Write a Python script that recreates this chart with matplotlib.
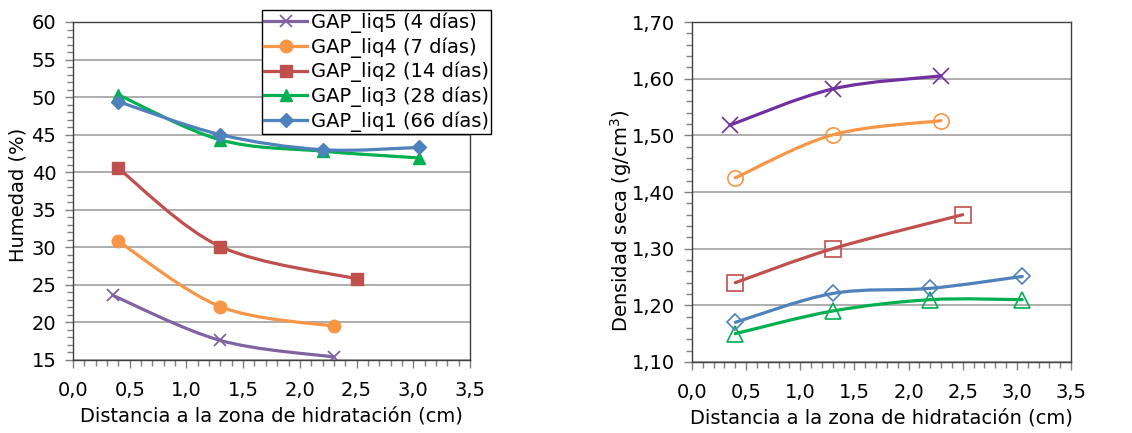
import numpy as np
import matplotlib
matplotlib.use("Agg")
import matplotlib.pyplot as plt
from matplotlib.path import Path
from matplotlib.patches import PathPatch
from matplotlib.lines import Line2D
from matplotlib.ticker import MultipleLocator, FuncFormatter

plt.rcParams['font.family'] = ['DejaVu Sans']
plt.rcParams['font.size'] = 13

# series (in legend order)
labels = ["GAP_liq5 (4 días)", "GAP_liq4 (7 días)", "GAP_liq2 (14 días)",
          "GAP_liq3 (28 días)", "GAP_liq1 (66 días)"]
markers = ["x", "o", "s", "^", "D"]
colors_left = ["#8064A2", "#F79646", "#C0504D", "#00B050", "#4F81BD"]
colors_right = ["#7030A0", "#F79646", "#C0504D", "#00B050", "#4F81BD"]

# humedad (%) vs distancia (cm)
x_hum = [
    [0.35, 1.3, 2.3],
    [0.4, 1.3, 2.3],
    [0.4, 1.3, 2.5],
    [0.4, 1.3, 2.2, 3.05],
    [0.4, 1.3, 2.2, 3.05],
]
y_hum = [
    [23.6, 17.6, 15.4],
    [30.8, 22.1, 19.5],
    [40.5, 30.1, 25.8],
    [50.3, 44.3, 42.8, 41.9],
    [49.4, 45.0, 43.0, 43.3],
]

# densidad seca (g/cm3) vs distancia (cm)
x_den = [
    [0.35, 1.3, 2.3],
    [0.4, 1.3, 2.3],
    [0.4, 1.3, 2.5],
    [0.4, 1.3, 2.2, 3.05],
    [0.4, 1.3, 2.2, 3.05],
]
y_den = [
    [1.518, 1.582, 1.605],
    [1.425, 1.501, 1.526],
    [1.240, 1.300, 1.360],
    [1.150, 1.190, 1.210, 1.210],
    [1.170, 1.221, 1.230, 1.251],
]


def smooth_path(xs, ys):
    # Excel-style smoothed line: cubic Bezier segments through the points
    p = np.column_stack([xs, ys])
    n = len(p)
    verts = [p[0]]
    codes = [Path.MOVETO]
    for i in range(n - 1):
        p0 = p[i - 1] if i > 0 else p[i]
        p3 = p[i + 2] if i + 2 < n else p[i + 1]
        c1 = p[i] + (p[i + 1] - p0) / 6
        c2 = p[i + 1] - (p3 - p[i]) / 6
        verts += [c1, c2, p[i + 1]]
        codes += [Path.CURVE4] * 3
    return Path(verts, codes)


def comma(decimals):
    return FuncFormatter(lambda v, pos: f"{v:.{decimals}f}".replace(".", ","))


def style_axes(ax, ymin, ymax, ymaj, ymin_step, ydec, ylabel, ylab_pos):
    ax.set_xlim(0, 3.5)
    ax.set_ylim(ymin, ymax)
    ax.xaxis.set_major_locator(MultipleLocator(0.5))
    ax.xaxis.set_minor_locator(MultipleLocator(0.1))
    ax.yaxis.set_major_locator(MultipleLocator(ymaj))
    ax.yaxis.set_minor_locator(MultipleLocator(ymin_step))
    ax.xaxis.set_major_formatter(comma(1))
    ax.yaxis.set_major_formatter(comma(ydec))
    ax.grid(axis='y', which='major', color='#A0A0A0', lw=1.2)
    ax.set_axisbelow(True)
    for s in ax.spines.values():
        s.set_color('#404040')
        s.set_linewidth(1.0)
    ax.tick_params(which='major', direction='out', length=6, width=1, color='#808080', labelsize=14)
    ax.tick_params(which='minor', direction='out', length=4, width=1, color='#808080')
    ax.tick_params(axis='x', which='major', pad=9)
    ax.tick_params(axis='y', which='major', pad=6)
    ax.set_xlabel("Distancia a la zona de hidratación (cm)", fontsize=14, labelpad=5)
    ax.set_ylabel(ylabel, fontsize=14)
    ax.yaxis.set_label_coords(*ylab_pos)


fig = plt.figure(figsize=(11.32, 4.33), dpi=100)
ax1 = fig.add_axes([0.0645, 0.1686, 0.3507, 0.7806])
ax2 = fig.add_axes([0.6113, 0.1640, 0.3348, 0.7850])

lw = 2.3
handles = []
for i in range(len(labels)):
    m = markers[i]
    c = colors_left[i]
    ax1.add_patch(PathPatch(smooth_path(x_hum[i], y_hum[i]), fc='none', ec=c, lw=lw,
                            capstyle='round', zorder=2 + i))
    if m == 'x':
        ax1.plot(x_hum[i], y_hum[i], ls='none', marker='x', ms=9, mew=1.3, color=c, zorder=2 + i)
    else:
        ax1.plot(x_hum[i], y_hum[i], ls='none', marker=m, ms=9 if m != 'D' else 7,
                 color=c, mec=c, zorder=2 + i)
    handles.append(Line2D([], [], color=c, lw=lw, marker=m,
                          ms=9 if m != 'D' else 7, mew=1.3 if m == 'x' else 1))

    c = colors_right[i]
    ax2.add_patch(PathPatch(smooth_path(x_den[i], y_den[i]), fc='none', ec=c, lw=lw,
                            capstyle='round', zorder=2 + i))
    ax2.plot(x_den[i], y_den[i], ls='none', marker=m,
             ms=11 if m != 'D' else 8.5, mew=1.2,
             mfc='none', mec=c, zorder=2 + i)

style_axes(ax1, 15, 60, 5, 1, 0, "Humedad (%)", (-0.114, 0.49))
style_axes(ax2, 1.10, 1.70, 0.10, 0.02, 2, "Densidad seca (g/cm$^3$)", (-0.153, 0.415))

leg = fig.legend(handles, labels, loc='upper left', bbox_to_anchor=(0.2314, 0.977),
                 borderaxespad=0, fancybox=False, edgecolor='black', framealpha=1,
                 fontsize=14, labelspacing=0.22, borderpad=0.12, handletextpad=0.2,
                 handlelength=2.2)
leg.get_frame().set_linewidth(1.0)

fig.savefig("out.png", dpi=100)
